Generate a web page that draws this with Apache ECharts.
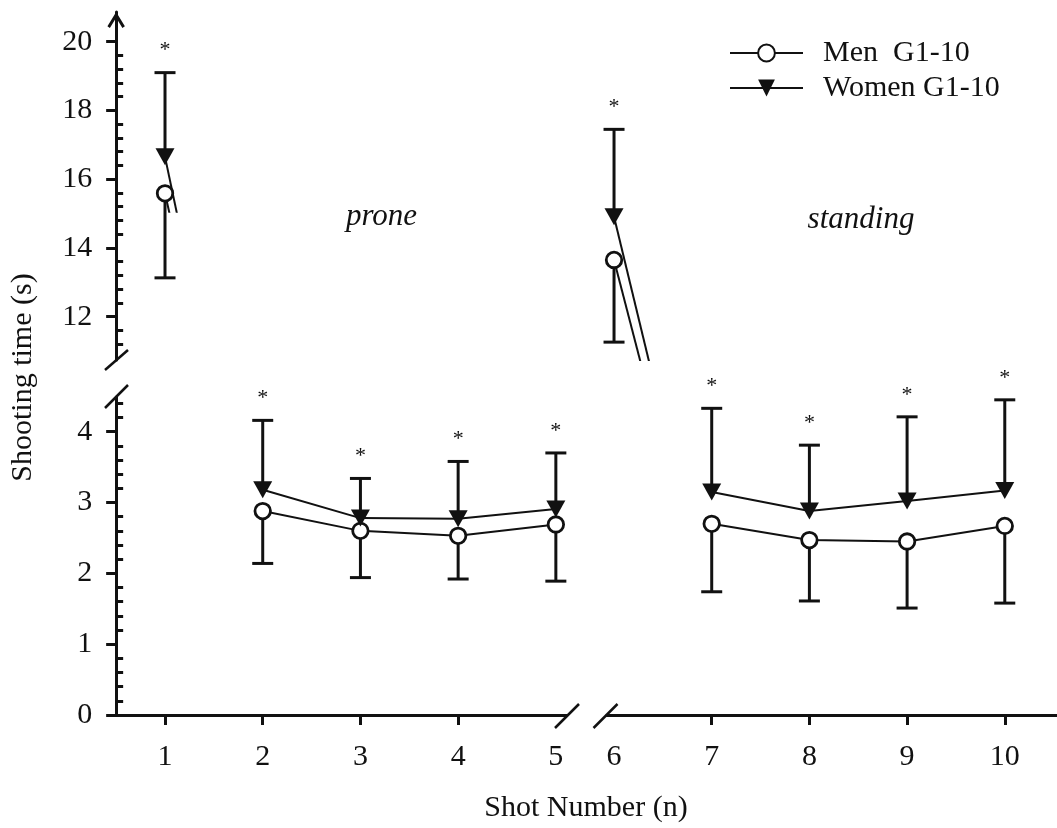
<!DOCTYPE html>
<html>
<head>
<meta charset="utf-8">
<script src="https://cdn.jsdelivr.net/npm/echarts@6.0.0/dist/echarts.min.js"></script>
<style>
html,body{margin:0;padding:0;background:#fff;}
#c{width:1057px;height:828px;}
</style>
</head>
<body>
<div id="c"></div>
<script>
// ---------------- data ----------------
const shots       = [1, 2, 3, 4, 5, 6, 7, 8, 9, 10];
const menMean     = [15.59, 2.88, 2.60, 2.53, 2.69, 13.65, 2.70, 2.47, 2.45, 2.67];
const menSD       = [2.46, 0.74, 0.66, 0.61, 0.80, 2.39, 0.96, 0.86, 0.94, 1.09];
const womenMean   = [16.65, 3.18, 2.78, 2.77, 2.91, 14.91, 3.15, 2.88, 3.02, 3.17];
const womenSD     = [2.45, 0.98, 0.56, 0.81, 0.79, 2.54, 1.18, 0.93, 1.19, 1.28];
const significant = [true, true, true, true, true, true, true, true, true, true];
const proneShots    = [1, 2, 3, 4, 5];
const standingShots = [6, 7, 8, 9, 10];
const xTicksLeft    = [1, 2, 3, 4];
const xTicksRight   = [7, 8, 9, 10];
const lowerYTicks   = [0, 1, 2, 3, 4];
const upperYTicks   = [12, 14, 16, 18, 20];
const seriesNames   = ['Men  G1-10', 'Women G1-10'];
const xTitle = 'Shot Number (n)';
const yTitle = 'Shooting time (s)';
const phaseLabels = ['prone', 'standing'];

// ---------------- layout / style ----------------
const FONT = 'Liberation Serif';
const INK = '#111';
const LOW = {min: 0, max: 4.49};
const UP  = {min: 10.74, max: 20.864};
const CLIP_MIN = 15.055;
const XL = {min: 0.5, max: 5.111};
const XR = {min: 5.925, max: 10.55};
const G = {
  xL0: 116.15, xL1: 566.7, xR0: 606.7, xR1: 1058.5,
  yLowTop: 397, yLowBot: 715, yUpTop: 12, yUpBot: 360, yClip: 211.7
};

function range(a, b, step) { const r = []; for (let v = a; v <= b + 1e-9; v += step) r.push(+v.toFixed(4)); return r; }
const minorLow = range(0.2, 4.4, 0.2).filter(v => Math.abs(v - Math.round(v)) > 1e-6);
const minorUp  = range(11.2, 19.6, 0.4).filter(v => !upperYTicks.some(t => Math.abs(t - v) < 1e-6));

const circleStyle = {color: '#fff', borderColor: INK, borderWidth: 2.8};
const triPath = 'path://M0,0 L20,0 L10,18 Z';
const chevron = 'path://M8.5,0 L17,13.8 L14.6,15.6 L8.5,5.6 L2.4,15.6 L0,13.8 Z';

const labelStyle = {fontFamily: FONT, fontSize: 30, color: INK};
const axLine = {show: true, onZero: false, lineStyle: {color: INK, width: 3}};
const tickStyle = {color: INK, width: 3};

function hiddenX(gi, r) { return {gridIndex: gi, type: 'value', min: r.min, max: r.max, show: false}; }
function hiddenY(gi, r) { return {gridIndex: gi, type: 'value', min: r.min, max: r.max, show: false}; }

function pts(group, means) {
  return group.map(s => [s, means[shots.indexOf(s)]]);
}
function isUpper(v) { return v >= UP.min; }

function errData(group, means, sds) {
  return group.map(s => { const i = shots.indexOf(s); return [s, means[i], sds[i], significant[i] ? 1 : 0]; });
}
function errRender(dir) {
  return function (params, api) {
    const x = api.value(0), m = api.value(1), sd = api.value(2), sig = api.value(3);
    const p0 = api.coord([x, m]);
    const p1 = api.coord([x, m + dir * sd]);
    const half = 10.5;
    const ch = [
      {type: 'line', shape: {x1: p0[0], y1: p0[1], x2: p1[0], y2: p1[1]}, style: {stroke: INK, lineWidth: 3}},
      {type: 'line', shape: {x1: p1[0] - half, y1: p1[1], x2: p1[0] + half, y2: p1[1]}, style: {stroke: INK, lineWidth: 3}}
    ];
    if (sig && dir > 0) {
      ch.push({type: 'text', x: p1[0], y: p1[1] - 22,
        style: {text: '*', fill: INK, font: '22px "' + FONT + '"', align: 'center', verticalAlign: 'middle'}});
    }
    return {type: 'group', children: ch};
  };
}

const series = [];
// grid index: 0 low-left, 1 low-right, 2 up-left, 3 up-right, 4 up-left clip for connectors
const groups = [
  {shots: proneShots, low: 0, up: 2, conn: 4},
  {shots: standingShots, low: 1, up: 3, conn: 3}
];
const specs = [
  {name: seriesNames[0], mean: menMean, sd: menSD, dir: -1, symbol: 'circle', size: 15.5, item: circleStyle},
  {name: seriesNames[1], mean: womenMean, sd: womenSD, dir: 1, symbol: triPath, size: [19, 17], item: {color: INK}}
];

specs.forEach(sp => {
  groups.forEach(g => {
    const all = pts(g.shots, sp.mean);
    const lowPts = all.filter(p => !isUpper(p[1]));
    const upPts = all.filter(p => isUpper(p[1]));
    const lowShots = lowPts.map(p => p[0]);
    const upShots = upPts.map(p => p[0]);
    series.push({type: 'custom', name: sp.name + ' err', xAxisIndex: g.low, yAxisIndex: g.low, z: 1, silent: true,
      renderItem: errRender(sp.dir), data: errData(lowShots, sp.mean, sp.sd)});
    series.push({type: 'custom', name: sp.name + ' err', xAxisIndex: g.up, yAxisIndex: g.up, z: 1, silent: true,
      renderItem: errRender(sp.dir), data: errData(upShots, sp.mean, sp.sd)});
    series.push({type: 'line', name: sp.name, xAxisIndex: g.low, yAxisIndex: g.low, z: 2, silent: true,
      data: lowPts, symbol: sp.symbol, symbolSize: sp.size, showSymbol: true,
      itemStyle: sp.item, lineStyle: {color: INK, width: 2}});
    if (upPts.length) {
      const next = all[all.indexOf(upPts[upPts.length - 1]) + 1];
      const connData = upPts.map(p => ({value: p})).concat(next ? [{value: next, symbol: 'none'}] : []);
      series.push({type: 'line', name: sp.name, xAxisIndex: g.conn, yAxisIndex: g.conn, z: 2, silent: true, clip: true,
        data: connData, symbol: sp.symbol, symbolSize: sp.size, showSymbol: true,
        itemStyle: sp.item, lineStyle: {color: INK, width: 2}});
    }
  });
});

const gridBase = {outerBoundsMode: 'none', containLabel: false};
const option = {
  animation: false,
  backgroundColor: '#fff',
  textStyle: {fontFamily: FONT, color: INK},
  grid: [
    Object.assign({left: G.xL0, top: G.yLowTop, width: G.xL1 - G.xL0, height: G.yLowBot - G.yLowTop}, gridBase),
    Object.assign({left: G.xR0, top: G.yLowTop, width: G.xR1 - G.xR0, height: G.yLowBot - G.yLowTop}, gridBase),
    Object.assign({left: G.xL0, top: G.yUpTop, width: G.xL1 - G.xL0, height: G.yUpBot - G.yUpTop}, gridBase),
    Object.assign({left: G.xR0, top: G.yUpTop, width: G.xR1 - G.xR0, height: G.yUpBot - G.yUpTop}, gridBase),
    Object.assign({left: G.xL0, top: G.yUpTop, width: G.xL1 - G.xL0, height: G.yClip - G.yUpTop}, gridBase)
  ],
  xAxis: [
    {gridIndex: 0, type: 'value', min: XL.min, max: XL.max, axisLine: axLine,
      axisTick: {show: true, length: 10, lineStyle: tickStyle, customValues: xTicksLeft},
      axisLabel: Object.assign({customValues: proneShots, margin: 27}, labelStyle),
      splitLine: {show: false}},
    {gridIndex: 1, type: 'value', min: XR.min, max: XR.max, axisLine: axLine,
      axisTick: {show: true, length: 10, lineStyle: tickStyle, customValues: xTicksRight},
      axisLabel: Object.assign({customValues: standingShots, margin: 27}, labelStyle),
      splitLine: {show: false}},
    hiddenX(2, XL), hiddenX(3, XR), hiddenX(4, XL)
  ],
  yAxis: [
    {gridIndex: 0, type: 'value', min: LOW.min, max: LOW.max, position: 'left', axisLine: axLine,
      axisTick: {show: true, length: 10, lineStyle: tickStyle, customValues: lowerYTicks},
      axisLabel: Object.assign({customValues: lowerYTicks, margin: 24}, labelStyle),
      splitLine: {show: false}},
    hiddenY(1, LOW),
    {gridIndex: 2, type: 'value', min: UP.min, max: UP.max, position: 'left',
      axisLine: Object.assign({}, axLine, {symbol: ['none', chevron], symbolSize: [18, 16], symbolOffset: [0, -8]}),
      axisTick: {show: true, length: 10, lineStyle: tickStyle, customValues: upperYTicks},
      axisLabel: Object.assign({customValues: upperYTicks, margin: 24}, labelStyle),
      splitLine: {show: false}},
    hiddenY(3, UP),
    hiddenY(4, {min: CLIP_MIN, max: UP.max}),
    {gridIndex: 0, type: 'value', min: LOW.min, max: LOW.max, position: 'left', axisLine: {show: false},
      axisTick: {show: true, inside: true, length: 7, lineStyle: tickStyle, customValues: minorLow},
      axisLabel: {show: false}, splitLine: {show: false}},
    {gridIndex: 2, type: 'value', min: UP.min, max: UP.max, position: 'left', axisLine: {show: false},
      axisTick: {show: true, inside: true, length: 7, lineStyle: tickStyle, customValues: minorUp},
      axisLabel: {show: false}, splitLine: {show: false}}
  ],
  legend: {
    left: 729, top: 38, orient: 'vertical', padding: 0,
    itemWidth: 73, itemHeight: 21, itemGap: 5, selectedMode: false,
    data: seriesNames,
    textStyle: {fontFamily: FONT, fontSize: 30, color: INK, padding: [0, 0, 0, 15]}
  },
  graphic: [
    {type: 'text', x: 23, y: 377.5, rotation: Math.PI / 2,
      style: {text: yTitle, font: '30px "' + FONT + '"', fill: INK, align: 'center', verticalAlign: 'middle'}},
    {type: 'text', x: 586, y: 808,
      style: {text: xTitle, font: '30px "' + FONT + '"', fill: INK, align: 'center', verticalAlign: 'middle'}},
    {type: 'text', x: 381.5, y: 217,
      style: {text: phaseLabels[0], font: 'italic 31px "' + FONT + '"', fill: INK, align: 'center', verticalAlign: 'middle'}},
    {type: 'text', x: 861, y: 220,
      style: {text: phaseLabels[1], font: 'italic 31px "' + FONT + '"', fill: INK, align: 'center', verticalAlign: 'middle'}},
    {type: 'line', shape: {x1: 105, y1: 370, x2: 128, y2: 350}, style: {stroke: INK, lineWidth: 2.5}, z: 10},
    {type: 'line', shape: {x1: 105, y1: 408, x2: 128, y2: 385}, style: {stroke: INK, lineWidth: 2.5}, z: 10},
    {type: 'line', shape: {x1: 555, y1: 728, x2: 579, y2: 704}, style: {stroke: INK, lineWidth: 2.5}, z: 10},
    {type: 'line', shape: {x1: 593.5, y1: 728, x2: 617.5, y2: 704}, style: {stroke: INK, lineWidth: 2.5}, z: 10}
  ],
  series: series
};

const chart = echarts.init(document.getElementById('c'), null, {renderer: 'canvas'});
chart.setOption(option);
</script>
</body>
</html>
